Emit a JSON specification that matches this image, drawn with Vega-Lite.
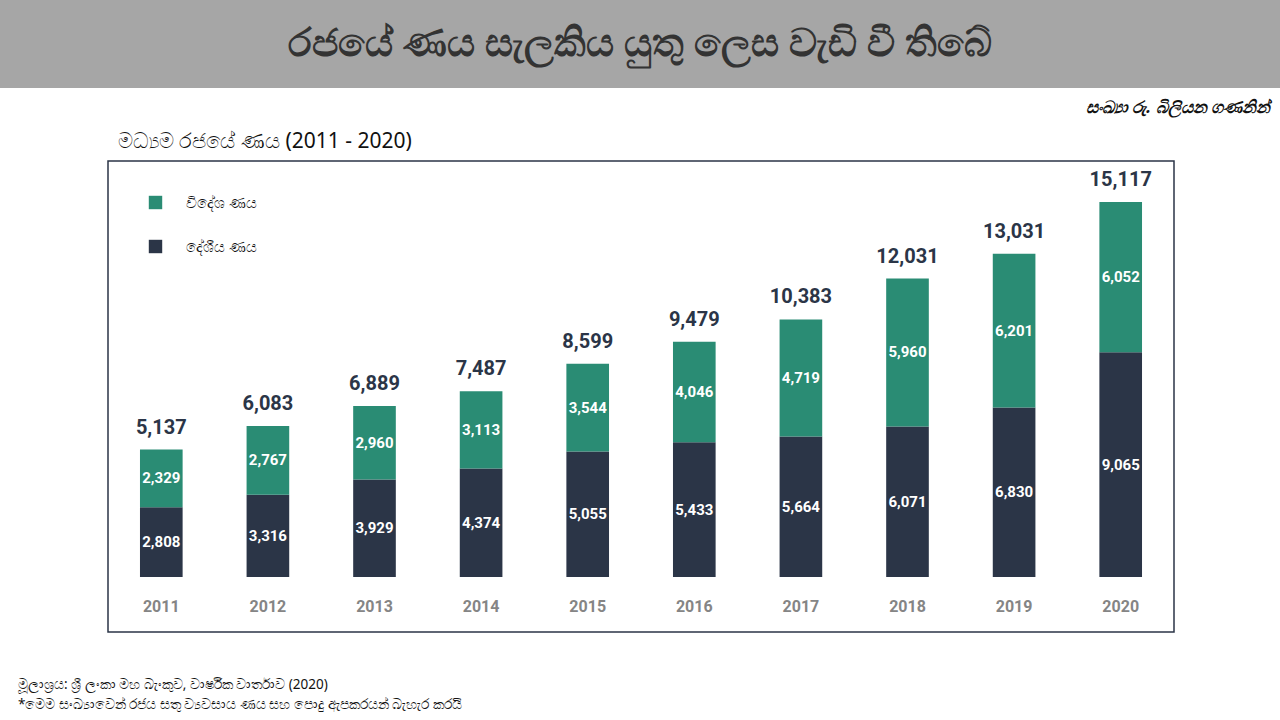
{
  "$schema": "https://vega.github.io/schema/vega-lite/v6.json",
  "padding": 0,
  "background": "white",
  "config": {
    "font": "Noto Sans",
    "view": {"stroke": null}
  },
  "datasets": {
    "debt": [
      {"year": "2011", "type": "දේශීය ණය", "order": 1, "value": 2808},
      {"year": "2011", "type": "විදේශ ණය", "order": 2, "value": 2329},
      {"year": "2012", "type": "දේශීය ණය", "order": 1, "value": 3316},
      {"year": "2012", "type": "විදේශ ණය", "order": 2, "value": 2767},
      {"year": "2013", "type": "දේශීය ණය", "order": 1, "value": 3929},
      {"year": "2013", "type": "විදේශ ණය", "order": 2, "value": 2960},
      {"year": "2014", "type": "දේශීය ණය", "order": 1, "value": 4374},
      {"year": "2014", "type": "විදේශ ණය", "order": 2, "value": 3113},
      {"year": "2015", "type": "දේශීය ණය", "order": 1, "value": 5055},
      {"year": "2015", "type": "විදේශ ණය", "order": 2, "value": 3544},
      {"year": "2016", "type": "දේශීය ණය", "order": 1, "value": 5433},
      {"year": "2016", "type": "විදේශ ණය", "order": 2, "value": 4046},
      {"year": "2017", "type": "දේශීය ණය", "order": 1, "value": 5664},
      {"year": "2017", "type": "විදේශ ණය", "order": 2, "value": 4719},
      {"year": "2018", "type": "දේශීය ණය", "order": 1, "value": 6071},
      {"year": "2018", "type": "විදේශ ණය", "order": 2, "value": 5960},
      {"year": "2019", "type": "දේශීය ණය", "order": 1, "value": 6830},
      {"year": "2019", "type": "විදේශ ණය", "order": 2, "value": 6201},
      {"year": "2020", "type": "දේශීය ණය", "order": 1, "value": 9065},
      {"year": "2020", "type": "විදේශ ණය", "order": 2, "value": 6052}
    ]
  },
  "spacing": 14,
  "resolve": {"legend": {"color": "independent"}},
  "vconcat": [
    {
      "width": 1280,
      "height": 88,
      "view": {"fill": "#a6a6a6", "stroke": null},
      "title": {
        "text": "සංඛ්‍යා රු. බිලියන ගණනින්",
        "orient": "bottom",
        "anchor": "end",
        "frame": "group",
        "dx": -10,
        "offset": 12,
        "fontSize": 17,
        "fontStyle": "italic",
        "fontWeight": "bold",
        "color": "#111111"
      },
      "data": {"values": [{"heading": "රජයේ ණය සැලකිය යුතු ලෙස වැඩි වී තිබේ"}]},
      "mark": {"type": "text", "align": "center", "baseline": "middle", "fontSize": 39, "fontWeight": "bold", "color": "#333333"},
      "encoding": {
        "text": {"field": "heading"},
        "x": {"datum": 0.5, "type": "quantitative", "scale": {"domain": [0, 1]}, "axis": null},
        "y": {"datum": 0.5, "type": "quantitative", "scale": {"domain": [0, 1]}, "axis": null}
      }
    },
    {
      "spacing": 0,
      "resolve": {"legend": {"color": "independent"}},
      "title": {
        "text": ["මූලාශ්‍රය: ශ්‍රී ලංකා මහ බැංකුව, වාර්ෂික වාර්තාව (2020)", "*මෙම සංඛ්‍යාවෙන් රජය සතු ව්‍යවසාය ණය සහ පොදු ඇපකරයන් බැහැර කරයි"],
        "orient": "bottom",
        "anchor": "start",
        "frame": "bounds",
        "dx": 18,
        "offset": 45,
        "fontSize": 13.5,
        "fontWeight": "normal",
        "color": "#111111",
        "lineHeight": 20
      },
      "hconcat": [
        {
          "width": 107,
          "height": 471,
          "data": {"values": []},
          "mark": {"type": "text"},
          "encoding": {}
        },
        {
          "width": 1066,
          "height": 471,
          "view": {"stroke": "#2b3547", "strokeWidth": 1.5, "fill": "white"},
          "title": {
            "text": "මධ්‍යම රජයේ ණය (2011 - 2020)",
            "anchor": "start",
            "frame": "group",
            "dx": 10,
            "offset": 9,
            "fontSize": 21,
            "fontWeight": "normal",
            "color": "#111111"
          },
          "data": {"name": "debt"},
          "encoding": {
            "x": {
              "field": "year",
              "type": "ordinal",
              "scale": {"paddingInner": 0.6, "paddingOuter": 0.3},
              "axis": {
                "orient": "bottom",
                "offset": -34,
                "domain": false,
                "ticks": false,
                "labelPadding": 0,
                "labelAngle": 0,
                "labelFont": "Roboto",
                "labelFontSize": 16,
                "labelFontWeight": "bold",
                "labelColor": "#858585",
                "title": null
              }
            }
          },
          "layer": [
            {
              "mark": {"type": "bar"},
              "encoding": {
                "y": {
                  "field": "value",
                  "type": "quantitative",
                  "stack": "zero",
                  "scale": {"domain": [-2217, 16770], "zero": false, "nice": false},
                  "axis": null
                },
                "color": {
                  "field": "type",
                  "type": "nominal",
                  "scale": {"domain": ["විදේශ ණය", "දේශීය ණය"], "range": ["#2a8c74", "#2b3547"]},
                  "legend": {
                    "orient": "none",
                    "legendX": 40,
                    "legendY": 34,
                    "title": null,
                    "symbolType": "square",
                    "symbolSize": 180,
                    "symbolStrokeWidth": 0,
                    "rowPadding": 28,
                    "labelFontSize": 15,
                    "labelColor": "#111111",
                    "labelOffset": 23
                  }
                },
                "order": {"field": "order", "type": "quantitative"}
              }
            },
            {
              "transform": [
                {"stack": "value", "groupby": ["year"], "sort": [{"field": "order"}], "as": ["v0", "v1"]},
                {"calculate": "(datum.v0 + datum.v1) / 2", "as": "mid"}
              ],
              "mark": {"type": "text", "color": "white", "fontSize": 15, "fontWeight": "bold", "font": "Roboto", "baseline": "middle"},
              "encoding": {
                "y": {"field": "mid", "type": "quantitative"},
                "text": {"field": "value", "type": "quantitative", "format": ","}
              }
            },
            {
              "mark": {"type": "text", "color": "#2b3547", "fontSize": 20, "fontWeight": "bold", "font": "Roboto", "baseline": "bottom", "dy": -12},
              "encoding": {
                "y": {"aggregate": "sum", "field": "value", "type": "quantitative"},
                "text": {"aggregate": "sum", "field": "value", "type": "quantitative", "format": ","}
              }
            }
          ]
        }
      ]
    }
  ]
}
